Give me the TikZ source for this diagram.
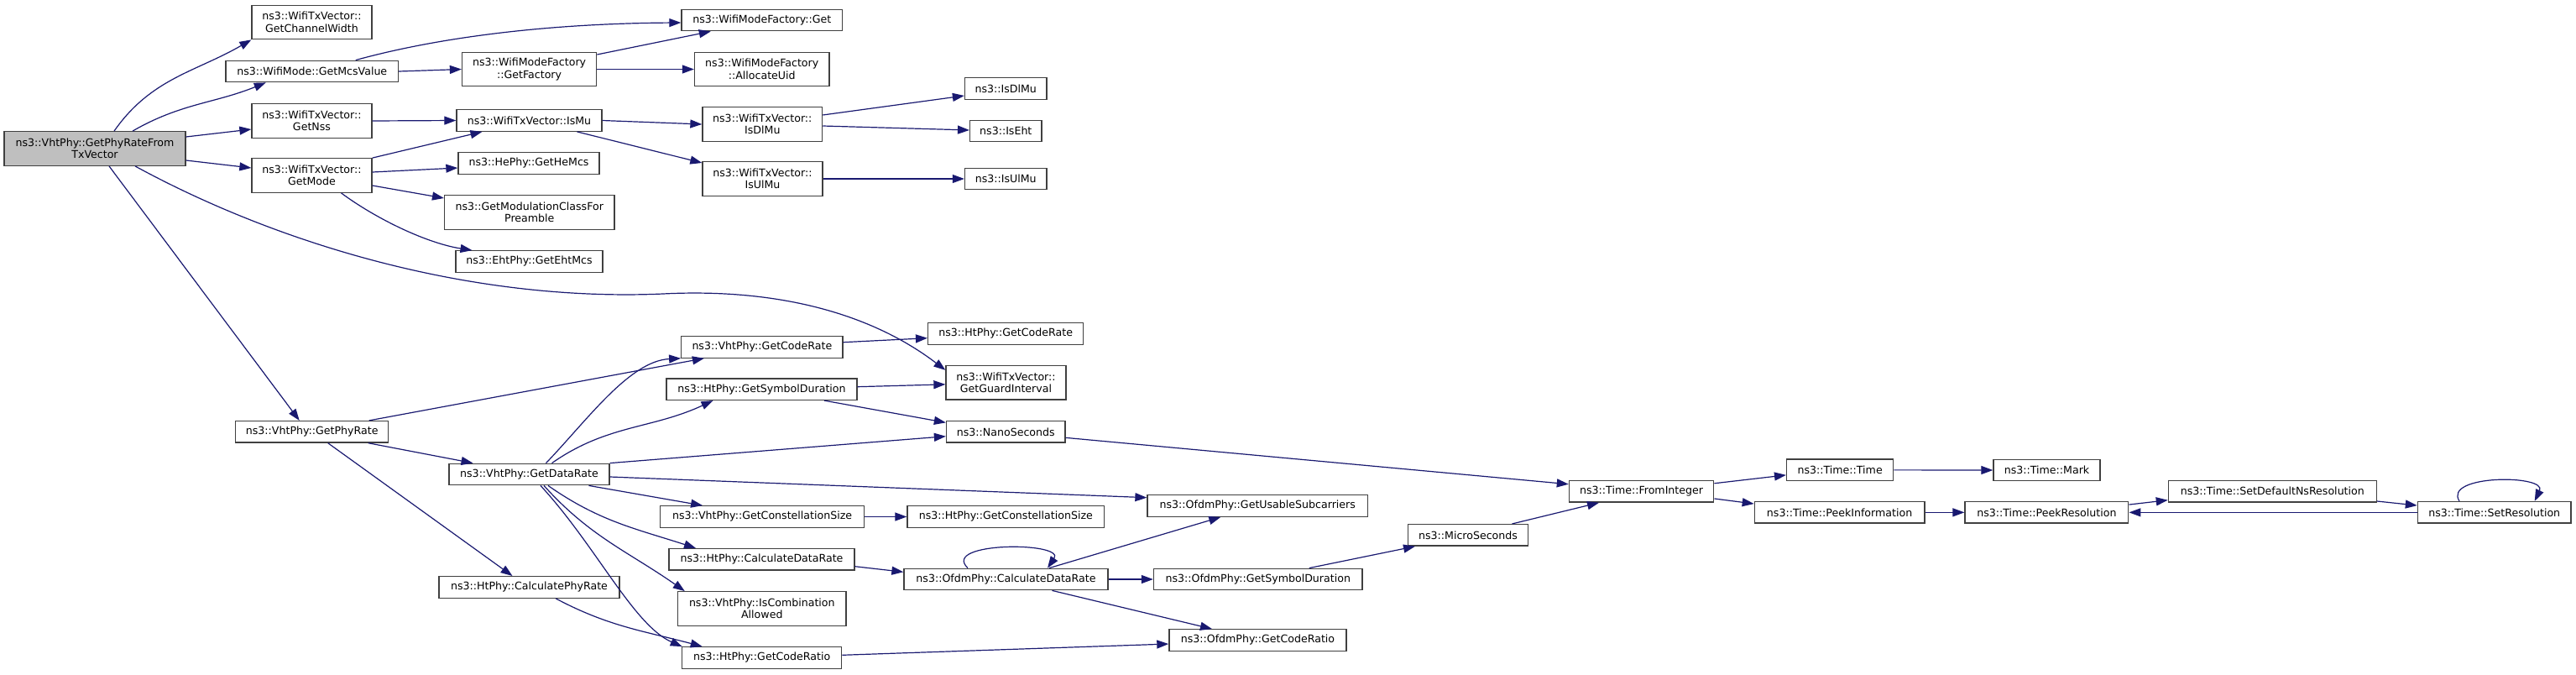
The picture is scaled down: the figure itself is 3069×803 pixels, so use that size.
\documentclass[tikz,border=0pt]{standalone}
\usepackage{fontspec}
\setmainfont{DejaVu Sans}
\usetikzlibrary{arrows.meta}
\definecolor{edgec}{HTML}{191970}
\definecolor{boxc}{HTML}{404040}
\definecolor{mainfill}{HTML}{BFBFBF}
\begin{document}
\begin{tikzpicture}[x=1pt,y=-1pt,
  box/.style={draw=boxc, line width=1.3pt, fill=white, inner sep=0pt, align=center,
    font=\fontsize{12.6pt}{14.5pt}\selectfont, minimum height=25.5pt},
  tall/.style={minimum height=40.5pt},
  call/.style={draw=edgec, line width=1.2pt, -{Triangle[length=14pt,width=10pt]}},
]
\useasboundingbox (0,0) rectangle (3069,803);

% column 1
\node[box,tall,fill=mainfill,minimum width=216pt] (main) at (113,177) {ns3::VhtPhy::GetPhyRateFrom\\TxVector};
% column 2
\node[box,tall,minimum width=143pt] (chw) at (371.5,26.5) {ns3::WifiTxVector::\\GetChannelWidth};
\node[box,minimum width=205.5pt] (mcs) at (371.75,85) {ns3::WifiMode::GetMcsValue};
\node[box,tall,minimum width=143pt] (nss) at (371.5,144) {ns3::WifiTxVector::\\GetNss};
\node[box,tall,minimum width=143pt] (mode) at (371.5,209) {ns3::WifiTxVector::\\GetMode};
\node[box,minimum width=182pt] (phyrate) at (371.7,514.3) {ns3::VhtPhy::GetPhyRate};
% column 3
\node[box,tall,minimum width=160.2pt] (fact) at (630.6,82.5) {ns3::WifiModeFactory\\::GetFactory};
\node[box,minimum width=173pt] (ismu) at (630.5,143.5) {ns3::WifiTxVector::IsMu};
\node[box,minimum width=168pt] (hemcs) at (630,194.5) {ns3::HePhy::GetHeMcs};
\node[box,tall,minimum width=202.4pt] (modcls) at (630.8,253) {ns3::GetModulationClassFor\\Preamble};
\node[box,minimum width=175pt] (ehtmcs) at (630.5,311.5) {ns3::EhtPhy::GetEhtMcs};
\node[box,minimum width=191pt] (datarate) at (630.5,565) {ns3::VhtPhy::GetDataRate};
\node[box,minimum width=215pt] (calcphy) at (630.5,699.4) {ns3::HtPhy::CalculatePhyRate};
% column 4
\node[box,minimum width=191.6pt] (get) at (907.8,24) {ns3::WifiModeFactory::Get};
\node[box,tall,minimum width=160.5pt] (alloc) at (907.75,82.5) {ns3::WifiModeFactory\\::AllocateUid};
\node[box,tall,minimum width=142.6pt] (isdlmuv) at (908.3,148) {ns3::WifiTxVector::\\IsDlMu};
\node[box,tall,minimum width=143pt] (isulmuv) at (908.5,213) {ns3::WifiTxVector::\\IsUlMu};
\node[box,minimum width=192.3pt] (vcoderate) at (907.9,413.4) {ns3::VhtPhy::GetCodeRate};
\node[box,minimum width=227pt] (symdur) at (907.5,463.7) {ns3::HtPhy::GetSymbolDuration};
\node[box,minimum width=243pt] (vconst) at (908.1,615.5) {ns3::VhtPhy::GetConstellationSize};
\node[box,minimum width=221pt] (hcalcdr) at (907.5,666.3) {ns3::HtPhy::CalculateDataRate};
\node[box,tall,minimum width=200.4pt] (iscomb) at (907.8,725) {ns3::VhtPhy::IsCombination\\Allowed};
\node[box,minimum width=190pt] (hcoderatio) at (907.7,783.5) {ns3::HtPhy::GetCodeRatio};
% column 5
\node[box,minimum width=97.5pt] (isdlmu) at (1198.25,105.5) {ns3::IsDlMu};
\node[box,minimum width=85.4pt] (iseht) at (1198.3,156) {ns3::IsEht};
\node[box,minimum width=97.5pt] (isulmu) at (1198.25,213) {ns3::IsUlMu};
\node[box,minimum width=185.2pt] (hcoderate) at (1198.2,397.5) {ns3::HtPhy::GetCodeRate};
\node[box,tall,minimum width=143pt] (guard) at (1198.5,455.85) {ns3::WifiTxVector::\\GetGuardInterval};
\node[box,minimum width=141.5pt] (nano) at (1198.25,514.35) {ns3::NanoSeconds};
\node[box,minimum width=234.8pt] (hconst) at (1198.4,615.5) {ns3::HtPhy::GetConstellationSize};
\node[box,minimum width=243pt] (ocalcdr) at (1198.5,690) {ns3::OfdmPhy::CalculateDataRate};
% column 6
\node[box,minimum width=262.6pt] (usable) at (1498.3,602.5) {ns3::OfdmPhy::GetUsableSubcarriers};
\node[box,minimum width=248.5pt] (osymdur) at (1498.75,690) {ns3::OfdmPhy::GetSymbolDuration};
\node[box,minimum width=211pt] (ocoderatio) at (1498.45,762.5) {ns3::OfdmPhy::GetCodeRatio};
% column 7+
\node[box,minimum width=142.8pt] (micro) at (1749,637.35) {ns3::MicroSeconds};
\node[box,minimum width=172.4pt] (fromint) at (1955.6,585.35) {ns3::Time::FromInteger};
\node[box,minimum width=127pt] (ttime) at (2192.1,559.85) {ns3::Time::Time};
\node[box,minimum width=202.6pt] (peekinfo) at (2191.6,610.35) {ns3::Time::PeekInformation};
\node[box,minimum width=127pt] (mark) at (2438.5,560) {ns3::Time::Mark};
\node[box,minimum width=194.8pt] (peekres) at (2438.4,610.35) {ns3::Time::PeekResolution};
\node[box,minimum width=248pt] (setdef) at (2707.35,585.2) {ns3::Time::SetDefaultNsResolution};
\node[box,minimum width=182.6pt] (setres) at (2971.7,610.35) {ns3::Time::SetResolution};

% edges from main
\draw[call] ([xshift=23pt]main.north) to[out=55,in=-150] (chw.south west);
\draw[call] ([xshift=45pt]main.north) to[out=30,in=-158] ([xshift=-55pt]mcs.south);
\draw[call] ([yshift=14pt]main.east) -- ([yshift=-10pt]nss.west);
\draw[call] ([yshift=-14pt]main.east) -- ([yshift=9pt]mode.west);
\draw[call] ([xshift=48pt]main.south) .. controls (330,290) and (560,360) .. (790,350)
   .. controls (930,343) and (1040,375) .. ([yshift=15pt]guard.west);
\draw[call] ([xshift=17pt]main.south) -- ([xshift=-15pt]phyrate.north);
% mcs / factory
\draw[call] ([xshift=52pt]mcs.north) .. controls (520,45) and (650,28) .. ([yshift=-3pt]get.west);
\draw[call] (mcs.east) -- (fact.west);
\draw[call] ([yshift=17.5pt]fact.east) -- ([xshift=-61pt]get.south);
\draw[call] (fact.east) -- (alloc.west);
% nss / mode
\draw[call] (nss.east) -- (ismu.west);
\draw[call] (mode.north east) -- ([xshift=-56pt]ismu.south);
\draw[call] ([yshift=4pt]mode.east) -- ([yshift=-5.5pt]hemcs.west);
\draw[call] ([yshift=-12pt]mode.east) -- ([yshift=17pt]modcls.west);
\draw[call] ([xshift=35pt]mode.south) .. controls (450,262) and (510,290) .. ([xshift=-68pt]ehtmcs.north);
% ismu
\draw[call] (ismu.east) -- (isdlmuv.west);
\draw[call] ([xshift=57pt]ismu.south) -- ([yshift=19pt]isulmuv.west);
\draw[call] ([yshift=11pt]isdlmuv.east) -- ([yshift=-8.5pt]isdlmu.west);
\draw[call] ([yshift=-2pt]isdlmuv.east) -- ([yshift=1pt]iseht.west);
\draw[call] (isulmuv.east) -- (isulmu.west);
% phyrate
\draw[call] ([xshift=68pt]phyrate.north) -- ([xshift=-69pt]vcoderate.south);
\draw[call] ([xshift=67pt]phyrate.south) -- ([xshift=-67pt]datarate.north);
\draw[call] ([xshift=19pt]phyrate.south) -- ([xshift=-20pt]calcphy.north);
% datarate
\draw[call] ([xshift=20pt]datarate.north) .. controls (700,500) and (750,430) .. (vcoderate.south west);
\draw[call] ([xshift=27pt]datarate.north) to[out=35,in=-155] ([xshift=-58pt]symdur.south);
\draw[call] (datarate.north east) -- ([yshift=-5.35pt]nano.west);
\draw[call] ([yshift=-3pt]datarate.east) -- ([yshift=9.8pt]usable.west);
\draw[call] ([xshift=71pt]datarate.south) -- ([xshift=-71pt]vconst.north);
\draw[call] ([xshift=22.5pt]datarate.south) to[out=-35,in=162] ([xshift=-78.5pt]hcalcdr.north);
\draw[call] ([xshift=17.5pt]datarate.south) to[out=-48,in=145] ([xshift=-92pt]iscomb.north);
\draw[call] ([xshift=13.5pt]datarate.south) .. controls (710,650) and (755,745) .. ([xshift=-95pt]hcoderatio.north);
% others
\draw[call] ([yshift=3pt]symdur.east) -- ([yshift=-2pt]guard.west);
\draw[call] ([xshift=74.5pt]symdur.south) -- ([yshift=11pt]nano.west);
\draw[call] ([yshift=5.7pt]vcoderate.east) -- ([yshift=-5.2pt]hcoderate.west);
\draw[call] ([yshift=-7pt]nano.east) -- ([yshift=8.65pt]fromint.west);
\draw[call] (vconst.east) -- (hconst.west);
\draw[call] ([yshift=-8.4pt]hcalcdr.east) -- ([yshift=8.7pt]ocalcdr.west);
\draw[call] ([xshift=31.5pt]calcphy.south) to[out=-28,in=165] ([xshift=-71pt]hcoderatio.north);
\draw[call] ([yshift=3.2pt]hcoderatio.east) -- ([yshift=-4.5pt]ocoderatio.west);
% ofdm
\draw[call] ([xshift=-45.5pt]ocalcdr.north) .. controls (1120,645) and (1270,645) .. ([xshift=49.5pt]ocalcdr.north);
\draw[call] ([xshift=51.5pt]ocalcdr.north) -- ([xshift=-44pt]usable.south);
\draw[call] (ocalcdr.east) -- (osymdur.west);
\draw[call] ([xshift=55pt]ocalcdr.south) -- ([xshift=-54.5pt]ocoderatio.north);
\draw[call] ([xshift=61pt]osymdur.north) -- ([xshift=-63pt]micro.south);
\draw[call] ([xshift=52.5pt]micro.north) -- ([xshift=-50.6pt]fromint.south);
% time
\draw[call] ([yshift=9.6pt]fromint.east) -- ([yshift=-6pt]ttime.west);
\draw[call] ([yshift=-8.6pt]fromint.east) -- ([yshift=10.3pt]peekinfo.west);
\draw[call] (ttime.east) -- (mark.west);
\draw[call] (peekinfo.east) -- (peekres.west);
\draw[call] ([yshift=9.3pt]peekres.east) -- ([yshift=-10.5pt]setdef.west);
\draw[call] ([yshift=-11.8pt]setdef.east) -- ([yshift=8.3pt]setres.west);
\draw[call] (setres.west) -- (peekres.east);
\draw[call] ([xshift=-41.7pt]setres.north) .. controls (2910,565) and (3035,565) .. ([xshift=48pt]setres.north);
\end{tikzpicture}
\end{document}
